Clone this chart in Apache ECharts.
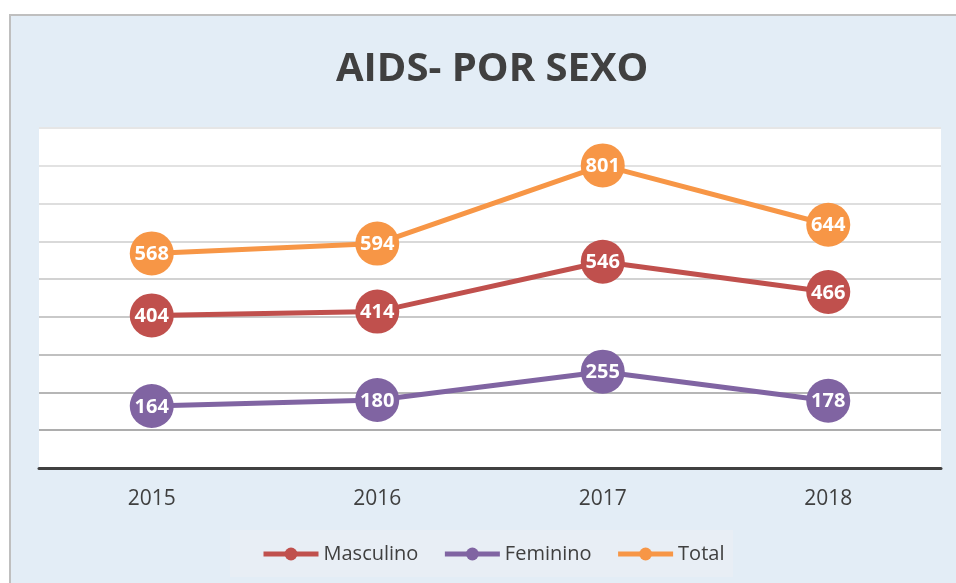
<!DOCTYPE html>
<html>
<head>
<meta charset="utf-8">
<script src="https://cdn.jsdelivr.net/npm/echarts@6/dist/echarts.min.js"></script>
<style>
html,body{margin:0;padding:0;background:#ffffff;}
#chart{width:956px;height:583px;}
</style>
</head>
<body>
<div id="chart"></div>
<script>
var titleText = 'AIDS- POR SEXO';
var categories = ['2015', '2016', '2017', '2018'];
var masculino = [404, 414, 546, 466];
var feminino = [164, 180, 255, 178];
var total = [568, 594, 801, 644];
var seriesNames = ['Masculino', 'Feminino', 'Total'];
var seriesColors = ['#c0504d', '#8064a2', '#f79646'];

var gridColors = ['#9a9a9a', '#adadad', '#b6b6b6', '#c0c0c0', '#c9c9c9', '#d2d2d2', '#d9d9d9', '#dedede', '#e2e2e2', '#e6e6e6'];

function mkSeries(name, data, color) {
  return {
    name: name,
    type: 'line',
    data: data,
    symbol: 'circle',
    symbolSize: 44,
    itemStyle: { color: color },
    lineStyle: { color: color, width: 5 },
    label: {
      show: true,
      position: 'inside',
      color: '#ffffff',
      fontFamily: 'Open Sans',
      fontWeight: 'bold',
      fontSize: 20,
      offset: [0, 1]
    },
    emphasis: { disabled: true },
    animation: false
  };
}

var chart = echarts.init(document.getElementById('chart'), null, { renderer: 'canvas' });
chart.setOption({
  animation: false,
  graphic: [
    { type: 'rect', z: -10, shape: { x: 10, y: 15, width: 960, height: 580 },
      style: { fill: '#e3edf6', stroke: '#bfbfbf', lineWidth: 2 } },
    { type: 'rect', z: -9, shape: { x: 230, y: 530, width: 503, height: 47 },
      style: { fill: '#e8eef5' } },
    { type: 'rect', z: -9, shape: { x: 39, y: 127, width: 902, height: 341 },
      style: { fill: '#ffffff' } }
  ],
  title: {
    text: titleText,
    left: 331,
    top: 45,
    textStyle: { fontFamily: 'Open Sans', fontWeight: 'bold', fontSize: 40, color: '#404040' }
  },
  legend: {
    data: seriesNames,
    left: 256,
    top: 539,
    itemWidth: 55,
    itemHeight: 16,
    itemGap: 24,
    lineStyle: { width: 5 },
    textStyle: { fontFamily: 'Open Sans', fontSize: 20, color: '#404040' }
  },
  grid: { left: 39, right: 15, top: 128, bottom: 115, containLabel: false },
  xAxis: {
    type: 'category',
    data: categories,
    boundaryGap: true,
    axisLine: { lineStyle: { color: '#404040', width: 3 } },
    axisTick: { show: false },
    axisLabel: { fontFamily: 'Open Sans', fontSize: 21, color: '#404040', margin: 21 }
  },
  yAxis: {
    type: 'value',
    min: 0,
    max: 900,
    interval: 100,
    axisLine: { show: false },
    axisTick: { show: false },
    axisLabel: { show: false },
    splitLine: { lineStyle: { color: gridColors, width: 2 } }
  },
  series: [
    mkSeries(seriesNames[0], masculino, seriesColors[0]),
    mkSeries(seriesNames[1], feminino, seriesColors[1]),
    mkSeries(seriesNames[2], total, seriesColors[2])
  ]
});
</script>
</body>
</html>
